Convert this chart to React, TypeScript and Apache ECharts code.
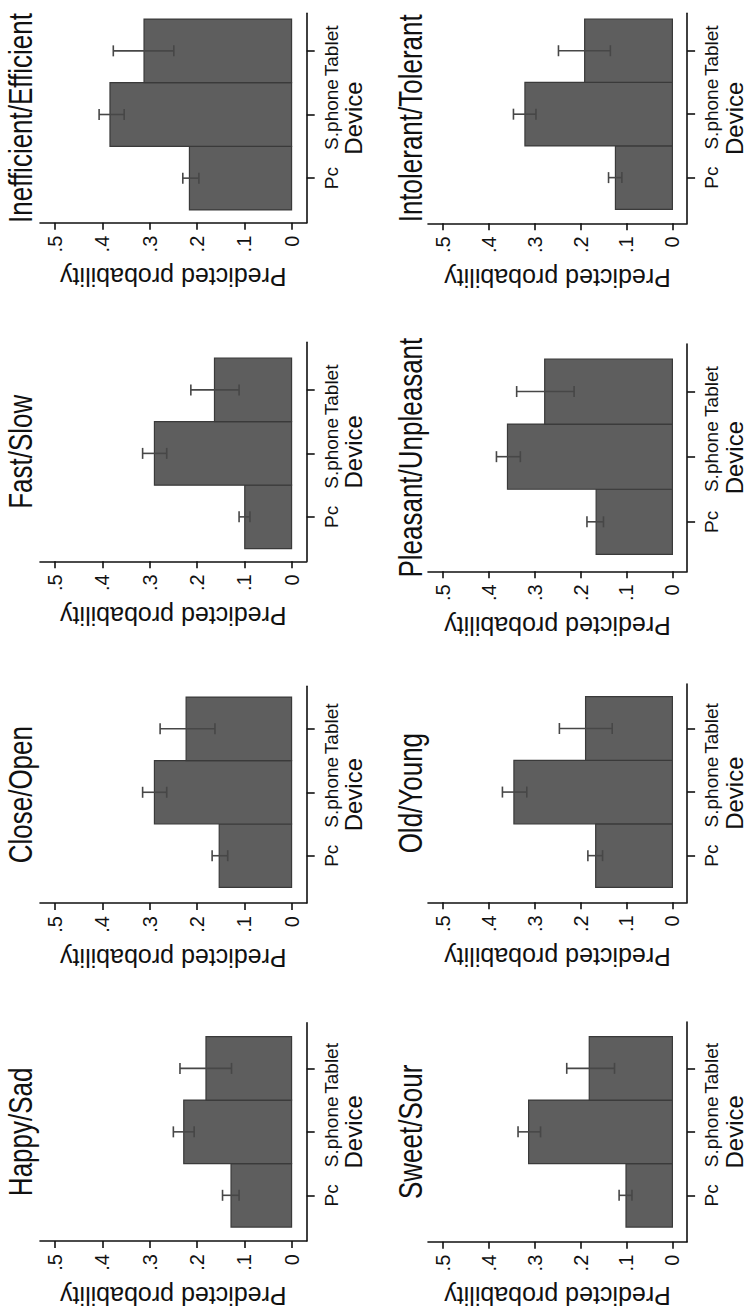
import React, { useEffect, useRef } from "react";
import * as echarts from "echarts";

// ---- data ----
const categories = ["Pc", "S.phone", "Tablet"];
const titles = [
  "Inefficient/Efficient",
  "Intolerant/Tolerant",
  "Fast/Slow",
  "Pleasant/Unpleasant",
  "Close/Open",
  "Old/Young",
  "Happy/Sad",
  "Sweet/Sour",
];
// predicted probability per panel: [Pc, S.phone, Tablet]
const probs = [
  [0.216, 0.384, 0.312],
  [0.124, 0.321, 0.191],
  [0.099, 0.29, 0.163],
  [0.166, 0.359, 0.278],
  [0.153, 0.29, 0.223],
  [0.167, 0.345, 0.189],
  [0.128, 0.228, 0.181],
  [0.101, 0.313, 0.181],
];
const ciLow = [
  [0.196, 0.354, 0.249],
  [0.11, 0.297, 0.135],
  [0.088, 0.264, 0.111],
  [0.15, 0.331, 0.214],
  [0.135, 0.264, 0.162],
  [0.152, 0.317, 0.131],
  [0.111, 0.206, 0.127],
  [0.088, 0.287, 0.126],
];
const ciHigh = [
  [0.23, 0.407, 0.377],
  [0.139, 0.346, 0.248],
  [0.111, 0.315, 0.213],
  [0.186, 0.383, 0.339],
  [0.168, 0.315, 0.278],
  [0.184, 0.37, 0.246],
  [0.146, 0.25, 0.236],
  [0.116, 0.336, 0.23],
];
const probTicks = [0, 0.1, 0.2, 0.3, 0.4, 0.5];
const catTicks = [1, 2, 3];
const valueAxisName = "Predicted probability";
const catAxisName = "Device";

// ---- layout ----
const colLeft = [40, 428];
const colRight = [306.7, 695.3];
const titleX = [20, 410];
const panelCol = [0, 1, 0, 1, 0, 1, 0, 1];
const panelTop = [13.3, 13.3, 342.3, 344, 686.3, 684, 1022.7, 1022];
const panelBottom = [222.7, 223.3, 561.3, 571.3, 903, 902.3, 1241, 1241.7];
const panelYMin = [0.3, 0.28, 0.3, 0.24, 0.255, 0.266, 0.28, 0.27];
const panelYMax = [3.59, 3.59, 3.75, 3.73, 3.67, 3.7, 3.72, 3.73];

const FONT = "'Liberation Sans', Arial, Helvetica, sans-serif";
const AXIS_COLOR = "#111";
const BAR_FILL = "#5e5e5e";
const BAR_STROKE = "#3a3a3a";
const ERR_COLOR = "#474747";

function fmtProb(v: number) {
  if (Math.abs(v) < 1e-9) return "0";
  return v.toFixed(1).replace(/^0/, "");
}

export default function App() {
  const ref = useRef<HTMLDivElement>(null);

  useEffect(() => {
    if (!ref.current) return;
    const chart = echarts.init(ref.current, null, { renderer: "svg" });

    const grids: any[] = [];
    const xAxes: any[] = [];
    const yAxes: any[] = [];
    const series: any[] = [];
    const graphics: any[] = [];

    titles.forEach((title, i) => {
      const c = panelCol[i];
      grids.push({
        left: colLeft[c],
        top: panelTop[i],
        width: colRight[c] - colLeft[c],
        height: panelBottom[i] - panelTop[i],
        containLabel: false,
      });
      xAxes.push({
        gridIndex: i,
        type: "value",
        inverse: true,
        min: -0.032,
        max: 0.532,
        position: "bottom",
        axisLine: { show: true, lineStyle: { color: AXIS_COLOR, width: 1.6 } },
        axisTick: {
          show: true,
          length: 7,
          customValues: probTicks,
          lineStyle: { color: AXIS_COLOR, width: 1.6 },
        },
        axisLabel: {
          show: true,
          rotate: 90,
          margin: 13,
          customValues: probTicks,
          formatter: (v: number) => fmtProb(v),
          fontSize: 20,
          fontFamily: FONT,
          color: "#111",
        },
        splitLine: { show: false },
        name: valueAxisName,
        nameLocation: "middle",
        nameRotate: 180,
        nameGap: 42,
        nameTextStyle: { fontSize: 25, fontFamily: FONT, color: "#111" },
      });
      yAxes.push({
        gridIndex: i,
        type: "value",
        min: panelYMin[i],
        max: panelYMax[i],
        position: "right",
        axisLine: { show: true, onZero: false, lineStyle: { color: AXIS_COLOR, width: 1.6 } },
        axisTick: {
          show: true,
          length: 8,
          customValues: catTicks,
          lineStyle: { color: AXIS_COLOR, width: 1.6 },
        },
        axisLabel: {
          show: true,
          rotate: 90,
          margin: 15,
          customValues: catTicks,
          formatter: (v: number) => categories[Math.round(v) - 1] ?? "",
          fontSize: 19,
          fontFamily: FONT,
          color: "#111",
        },
        splitLine: { show: false },
        name: catAxisName,
        nameLocation: "middle",
        nameGap: 31,
        nameTextStyle: { fontSize: 24, fontFamily: FONT, color: "#111" },
      });

      const data = categories.map((_, k) => [probs[i][k], k + 1, ciLow[i][k], ciHigh[i][k]]);

      series.push({
        type: "custom",
        xAxisIndex: i,
        yAxisIndex: i,
        data,
        encode: { x: 0, y: 1 },
        renderItem: (params: any, api: any) => {
          const v = api.value(0);
          const cat = api.value(1);
          const p0 = api.coord([0, cat]);
          const p1 = api.coord([v, cat]);
          const h = api.size([0, 1])[1];
          return {
            type: "rect",
            shape: {
              x: Math.min(p0[0], p1[0]),
              y: p0[1] - h / 2,
              width: Math.abs(p1[0] - p0[0]),
              height: h,
            },
            style: { fill: BAR_FILL, stroke: BAR_STROKE, lineWidth: 1.2 },
          };
        },
        z: 2,
      });
      series.push({
        type: "custom",
        xAxisIndex: i,
        yAxisIndex: i,
        data,
        encode: { x: [2, 3], y: 1 },
        renderItem: (params: any, api: any) => {
          const cat = api.value(1);
          const lo = api.coord([api.value(2), cat]);
          const hi = api.coord([api.value(3), cat]);
          const cap = 5.5;
          const st = { stroke: ERR_COLOR, lineWidth: 1.6 };
          return {
            type: "group",
            children: [
              { type: "line", shape: { x1: lo[0], y1: lo[1], x2: hi[0], y2: hi[1] }, style: st },
              { type: "line", shape: { x1: lo[0], y1: lo[1] - cap, x2: lo[0], y2: lo[1] + cap }, style: st },
              { type: "line", shape: { x1: hi[0], y1: hi[1] - cap, x2: hi[0], y2: hi[1] + cap }, style: st },
            ],
          };
        },
        z: 3,
      });

      graphics.push({
        type: "text",
        x: titleX[c],
        y: (panelTop[i] + panelBottom[i]) / 2,
        rotation: Math.PI / 2,
        scaleY: 1.3,
        style: {
          text: title,
          fontSize: 26,
          fontFamily: FONT,
          fill: "#111",
          align: "center",
          verticalAlign: "middle",
          textAlign: "center",
          textVerticalAlign: "middle",
        },
      });
    });

    chart.setOption({
      animation: false,
      backgroundColor: "#ffffff",
      grid: grids,
      xAxis: xAxes,
      yAxis: yAxes,
      series,
      graphic: graphics,
    });

    return () => {
      chart.dispose();
    };
  }, []);

  return (
    <div
      ref={ref}
      style={{ position: "absolute", left: 0, top: 0, width: 747, height: 1316, background: "#fff" }}
    />
  );
}
